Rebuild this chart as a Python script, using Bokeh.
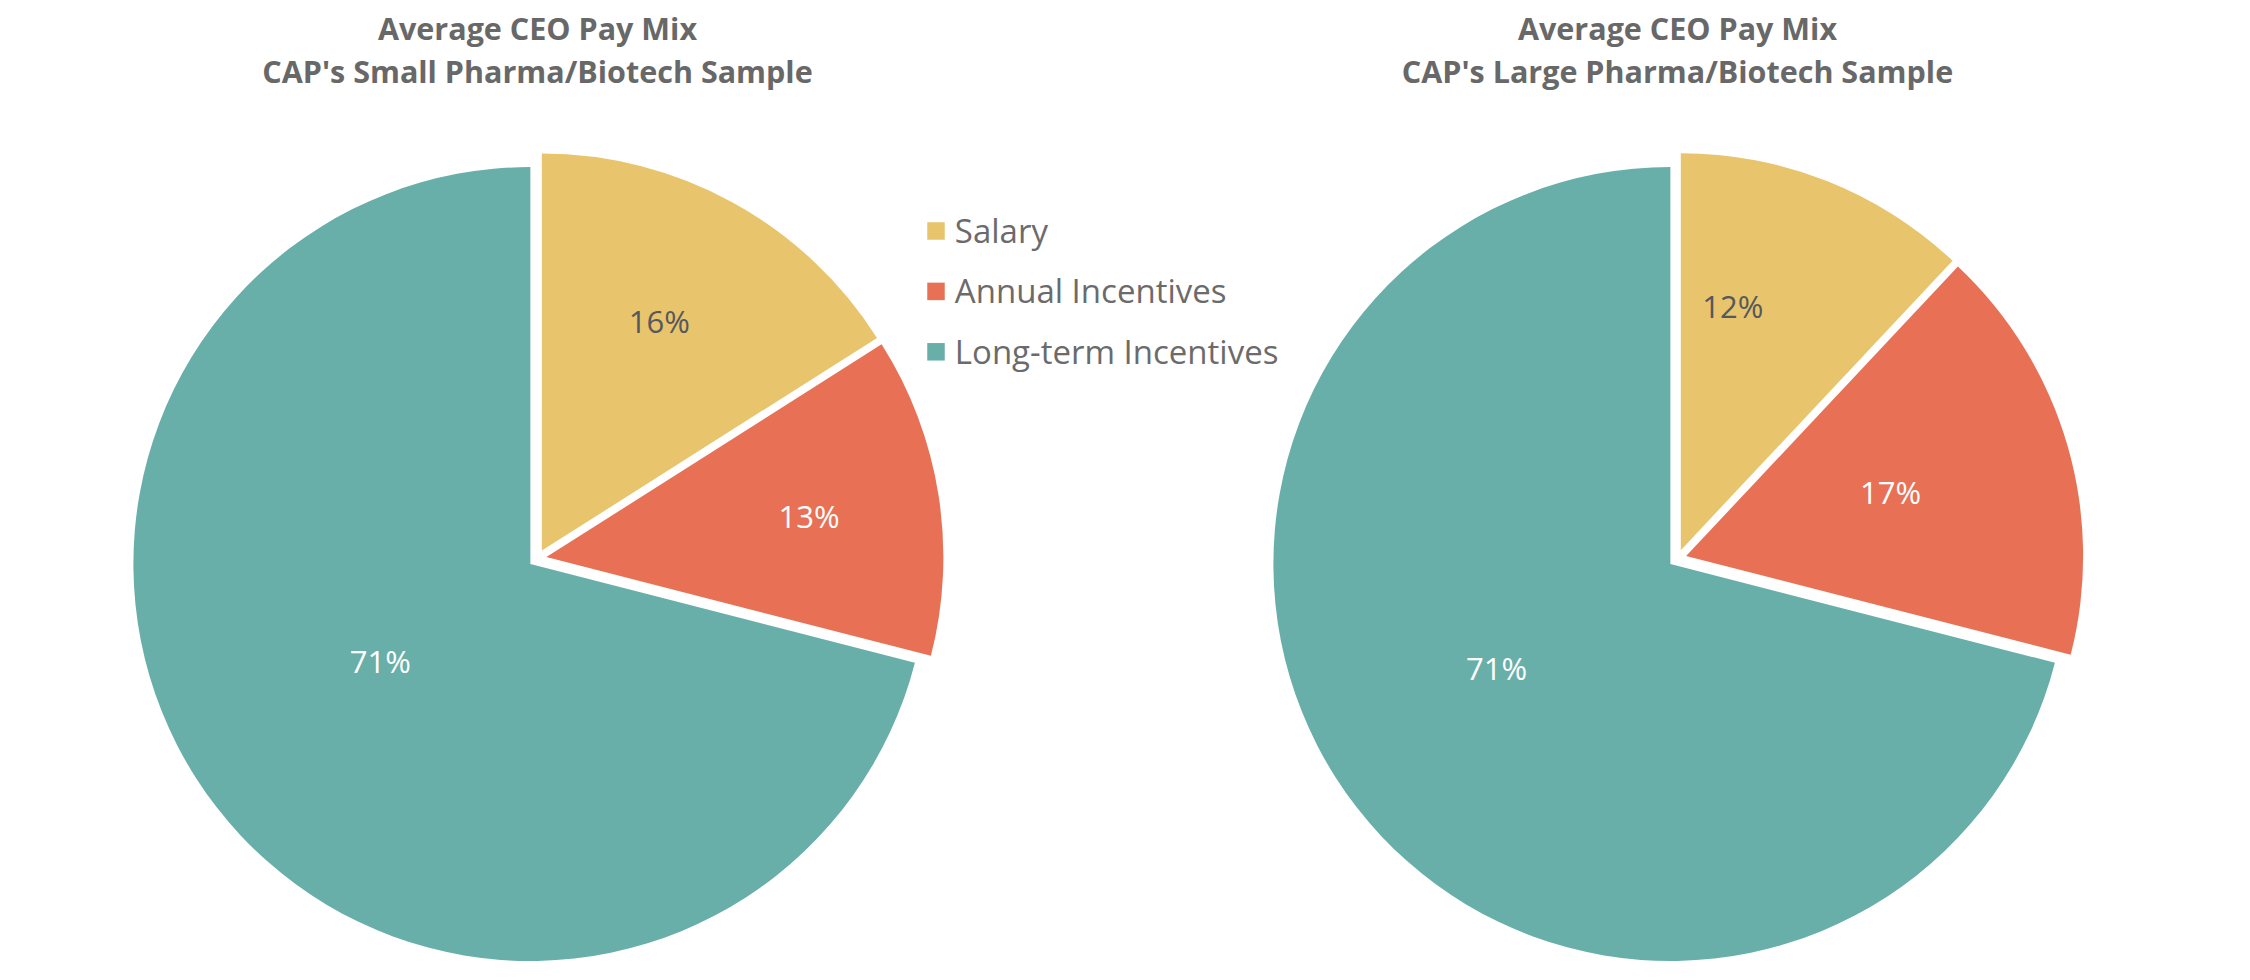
import math
from bokeh.plotting import figure
from bokeh.models import Range1d, ColumnDataSource
from bokeh.core.properties import value
from bokeh.embed import file_html
from bokeh.resources import INLINE

# ---------------- data ----------------
categories = ["Salary", "Annual Incentives", "Long-term Incentives"]
small_pharma_pct = [16, 13, 71]
large_pharma_pct = [12, 17, 71]
title_line1 = "Average CEO Pay Mix"
small_title_line2 = "CAP's Small Pharma/Biotech Sample"
large_title_line2 = "CAP's Large Pharma/Biotech Sample"

# ---------------- style / layout ----------------
slice_colors = ["#E8C46C", "#E87155", "#69AFA9"]
label_colors = ["#55585E", "#FFFFFF", "#FFFFFF"]
title_color = "#686868"
legend_text_color = "#6B6B6B"
FONT = "Open Sans"
LABEL_FS = 31
TITLE_FS = 30.5
LEGEND_FS = 33
TEXT_FIX = 11             # renderer places text this many px lower than the baseline asked

W, H = 2234, 964          # figure size in px
R = 397                   # pie radius (px)
EXPLODE = 9               # slice explosion distance (px)


def sx(x):                # picture x -> data x
    return x


def sy(y):                # picture y -> data y (y up)
    return H - y


def ty(y):                # picture baseline y -> data y for text
    return H - (y - TEXT_FIX)


pies = [
    dict(values=small_pharma_pct, cx=537, cy=558, line2=small_title_line2,
         label_r=[0.65, 0.67, 0.45], label_da=[-1.7, 0.0, 5.0]),
    dict(values=large_pharma_pct, cx=1677, cy=558, line2=large_title_line2,
         label_r=[0.63, 0.54, 0.51], label_da=[-9.6, -1.3, 7.0]),
]

p = figure(width=W, height=H, x_range=Range1d(0, W), y_range=Range1d(0, H),
           output_backend="svg", toolbar_location=None,
           x_axis_location=None, y_axis_location=None, min_border=0)
p.grid.visible = False
p.outline_line_color = None
p.background_fill_color = "white"
p.border_fill_color = "white"

for pie in pies:
    vals = pie["values"]
    total = float(sum(vals))
    cum = 0.0
    xs, ys, sa, ea, lx, ly, ltxt = [], [], [], [], [], [], []
    for i, v in enumerate(vals):
        f0 = cum / total
        cum += v
        f1 = cum / total
        mid = (f0 + f1) / 2.0 * 2 * math.pi      # clockwise from top
        cx = sx(pie["cx"]) + EXPLODE * math.sin(mid)
        cy = sy(pie["cy"]) + EXPLODE * math.cos(mid)
        xs.append(cx)
        ys.append(cy)
        sa.append(math.pi / 2 - f0 * 2 * math.pi)
        ea.append(math.pi / 2 - f1 * 2 * math.pi)
        la = mid + math.radians(pie["label_da"][i])
        lr = pie["label_r"][i] * R
        lx.append(cx + lr * math.sin(la))
        ly.append(cy + lr * math.cos(la) - 0.36 * LABEL_FS + TEXT_FIX)
        ltxt.append(f"{v}%")
    src = ColumnDataSource(dict(x=xs, y=ys, sa=sa, ea=ea, color=slice_colors,
                                lx=lx, ly=ly, txt=ltxt, tcolor=label_colors))
    p.wedge(x="x", y="y", radius=R, start_angle="sa", end_angle="ea",
            direction="clock", fill_color="color", line_color=None, source=src)
    p.text(x="lx", y="ly", text="txt", text_color="tcolor", text_font=value(FONT),
           text_font_size=f"{LABEL_FS}px", text_align="center",
           text_baseline="alphabetic", source=src)
    # titles
    p.text(x=[sx(pie["cx"]), sx(pie["cx"])], y=[ty(38.3), ty(81.7)],
           text=[title_line1, pie["line2"]], text_color=title_color,
           text_font=value(FONT), text_font_style="bold",
           text_font_size=f"{TITLE_FS}px",
           text_align="center", text_baseline="alphabetic")

# legend (manual)
leg_sq_x = sx(935.5)
leg_tx_x = sx(954.3)
row0 = 230.5
row_gap = 60.4
leg_y = [sy(row0 + i * row_gap) for i in range(len(categories))]
leg_ty = [ty(row0 + i * row_gap + 10.5) for i in range(len(categories))]
p.scatter(x=[leg_sq_x] * len(categories), y=leg_y, marker="square", size=17.5,
          fill_color=slice_colors, line_color=None)
p.text(x=[leg_tx_x] * len(categories), y=leg_ty, text=categories,
       text_color=legend_text_color, text_font=value(FONT),
       text_font_size=f"{LEGEND_FS}px",
       text_align="left", text_baseline="alphabetic")

open("out.html", "w").write(file_html(p, INLINE))
